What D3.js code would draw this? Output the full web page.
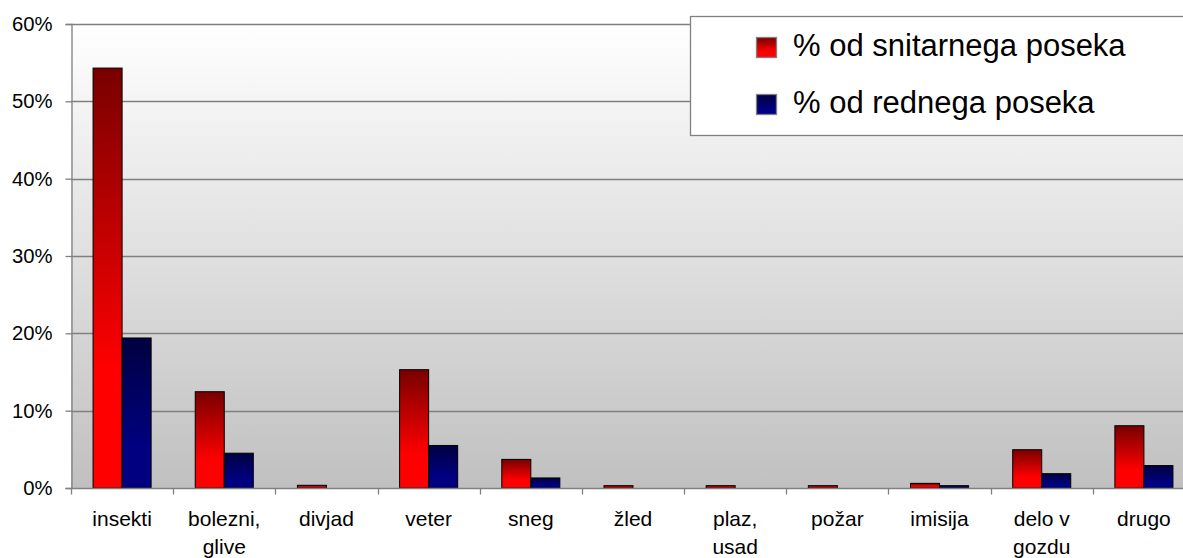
<!DOCTYPE html>
<html><head><meta charset="utf-8">
<script src="https://cdn.jsdelivr.net/npm/d3@7"></script>
<style>html,body{margin:0;padding:0;background:#fff;overflow:hidden}svg{display:block;font-family:"Liberation Sans",Arial,sans-serif}</style>
</head><body>
<svg id="c" width="1183" height="558"></svg>
<script>
const categories = [["insekti"],["bolezni,","glive"],["divjad"],["veter"],["sneg"],["žled"],["plaz,","usad"],["požar"],["imisija"],["delo v","gozdu"],["drugo"]];
const seriesNames = ["% od snitarnega poseka","% od rednega poseka"];
const sanitarni = [0.543,0.1245,0.0035,0.153,0.037,0.003,0.003,0.003,0.006,0.0495,0.0805];
const redni     = [0.194,0.045,0,0.055,0.013,0,0,0,0.003,0.0185,0.029];
const yTicks = [0,0.1,0.2,0.3,0.4,0.5,0.6];

const svg = d3.select("#c");
const L = 71, R = 1195, T = 24, B = 488;
const keys = categories.map((c,i)=>i);
const x0 = d3.scaleBand().domain(keys).range([L,R]).padding(0);
const x1 = d3.scaleBand().domain([0,1]).range([0,x0.bandwidth()]).paddingInner(0).paddingOuter(0.76);
const y = d3.scaleLinear().domain([0,0.6]).range([B,T]);

const defs = svg.append("defs");
const bg = defs.append("linearGradient").attr("id","bg").attr("x1",0).attr("y1",0).attr("x2",0).attr("y2",1);
bg.append("stop").attr("offset","0%").attr("stop-color","#ffffff");
bg.append("stop").attr("offset","100%").attr("stop-color","#c0c0c0");
const gr = defs.append("linearGradient").attr("id","gr").attr("x1",0).attr("y1",0).attr("x2",0).attr("y2",1);
gr.append("stop").attr("offset","0%").attr("stop-color","#780000");
gr.append("stop").attr("offset","72%").attr("stop-color","#ff0000");
gr.append("stop").attr("offset","100%").attr("stop-color","#ff0000");
const gb = defs.append("linearGradient").attr("id","gb").attr("x1",0).attr("y1",0).attr("x2",0).attr("y2",1);
gb.append("stop").attr("offset","0%").attr("stop-color","#000040");
gb.append("stop").attr("offset","72%").attr("stop-color","#000080");
gb.append("stop").attr("offset","100%").attr("stop-color","#000080");
const fills = ["url(#gr)","url(#gb)"];

// plot background
svg.append("rect").attr("x",L).attr("y",T).attr("width",R-L).attr("height",B-T).attr("fill","url(#bg)");

// gridlines
svg.append("g").selectAll("line").data(yTicks.filter(d=>d>0)).join("line")
  .attr("x1",L).attr("x2",R).attr("y1",d=>Math.round(y(d))+0.5).attr("y2",d=>Math.round(y(d))+0.5)
  .attr("stroke","#808080").attr("stroke-width",1.3);

// bars
const data = [sanitarni, redni];
data.forEach((vals,s)=>{
  svg.append("g").selectAll("rect").data(vals).join("rect")
    .attr("x",(d,i)=>x0(i)+x1(s))
    .attr("y",d=>y(d))
    .attr("width",x1.bandwidth())
    .attr("height",d=>B-y(d))
    .attr("fill",fills[s])
    .attr("stroke",d=>d>0?"#000":"none").attr("stroke-width",1);
});

// y axis
const ya = svg.append("g").attr("transform",`translate(${L+0.5},0)`)
  .call(d3.axisLeft(y).tickValues(yTicks).tickFormat(d3.format(".0%")).tickSize(6).tickPadding(13));
ya.select(".domain").attr("stroke","#808080").attr("stroke-width",1.3);
ya.selectAll(".tick line").attr("stroke","#808080").attr("stroke-width",1.3);
ya.selectAll(".tick text").attr("font-size",20.3).attr("fill","#000").attr("font-family","Liberation Sans, Arial, sans-serif");

// x axis
const xa = svg.append("g").attr("transform",`translate(0,${B+0.5})`);
xa.append("line").attr("x1",L).attr("x2",R).attr("stroke","#808080").attr("stroke-width",1.3);
xa.selectAll("line.tk").data(keys).join("line").attr("class","tk")
  .attr("x1",d=>Math.round(x0(d))+0.5).attr("x2",d=>Math.round(x0(d))+0.5).attr("y1",0).attr("y2",6)
  .attr("stroke","#808080").attr("stroke-width",1.3);
const lbl = xa.selectAll("text").data(keys).join("text")
  .attr("x",d=>x0(d)+x0.bandwidth()/2).attr("y",37.5)
  .attr("text-anchor","middle").attr("font-size",21).attr("fill","#000");
lbl.selectAll("tspan").data(d=>categories[d].map(t=>({t,x:x0(d)+x0.bandwidth()/2}))).join("tspan")
  .attr("x",d=>d.x).attr("dy",(d,i)=>i?28:0).text(d=>d.t);

// legend
const lg = svg.append("g");
lg.append("rect").attr("x",690.5).attr("y",16.5).attr("width",600).attr("height",119)
  .attr("fill","#fff").attr("stroke","#808080").attr("stroke-width",1.3);
const rows = [0,1];
const rowY = [56,113];
lg.selectAll("rect.sw").data(rows).join("rect").attr("class","sw")
  .attr("x",756.5).attr("y",d=>rowY[d]-18.5).attr("width",20).attr("height",20)
  .attr("fill",d=>fills[d]).attr("stroke","#808080").attr("stroke-width",1.3);
lg.selectAll("text").data(rows).join("text")
  .attr("x",793).attr("y",d=>rowY[d]).attr("font-size",31).attr("fill","#000")
  .text(d=>seriesNames[d]);
</script>
</body></html>
